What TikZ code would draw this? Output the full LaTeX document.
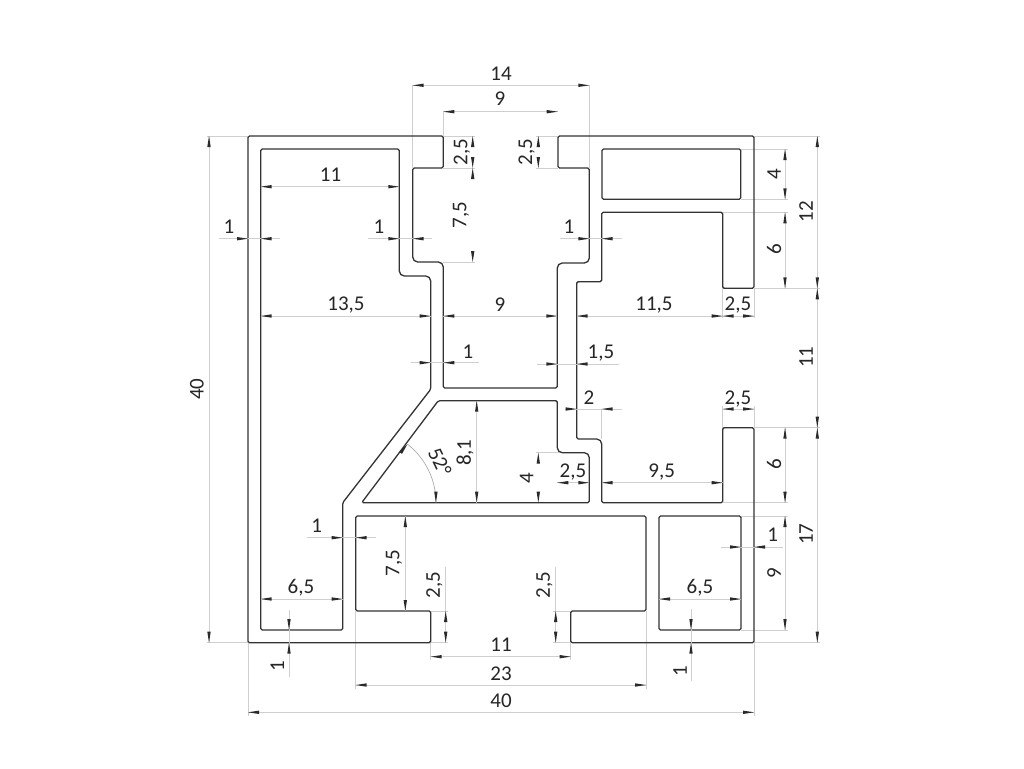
\documentclass[tikz,border=0pt]{standalone}
\usepackage{fontspec}
\setmainfont{Carlito}
\definecolor{profilecol}{HTML}{333333}
\definecolor{dimcol}{HTML}{CFCFCF}
\definecolor{tipcol}{HTML}{2A2A2A}
\tikzset{
  profile/.style={draw=profilecol,line width=1.3pt,line join=round},
  dimline/.style={draw=dimcol,line width=0.65pt},
  tipfill/.style={fill=tipcol,draw=none},
  dimlabel/.style={inner sep=0pt,text=black!85,font=\fontsize{21}{24}\selectfont},
  small/.style={rounded corners=1.5pt},
  large/.style={rounded corners=5pt},
}
\newcommand{\dtip}[3]{\fill[tipfill,shift={(#1,#2)},rotate=#3] (0,0) -- (11,1.7) -- (11,-1.7) -- cycle;}
% horizontal, arrows inside
\newcommand{\dimH}[3]{\draw[dimline] (#2,#1) -- (#3,#1);\dtip{#2}{#1}{0}\dtip{#3}{#1}{180}}
% horizontal, arrows outside; #4,#5 are the line ends
\newcommand{\dimHo}[5]{\draw[dimline] (#4,#1) -- (#5,#1);\dtip{#2}{#1}{180}\dtip{#3}{#1}{0}}
% vertical, arrows inside
\newcommand{\dimV}[3]{\draw[dimline] (#1,#2) -- (#1,#3);\dtip{#1}{#2}{270}\dtip{#1}{#3}{90}}
% vertical, arrows inside, line too faint to show
\newcommand{\dimVt}[3]{\dtip{#1}{#2}{270}\dtip{#1}{#3}{90}}
% vertical, arrows outside; #4,#5 are the line ends
\newcommand{\dimVo}[5]{\draw[dimline] (#1,#4) -- (#1,#5);\dtip{#1}{#2}{90}\dtip{#1}{#3}{270}}
\newcommand{\ext}[4]{\draw[dimline] (#1,#2) -- (#3,#4);}
\newcommand{\lab}[4]{\node[dimlabel] (#1) at (#2,#3) {#4};}
\newcommand{\labr}[4]{\node[dimlabel,rotate=90] (#1) at (#2,#3) {#4};}
\begin{document}
\begin{tikzpicture}[x=1pt,y=-1pt]
\useasboundingbox (0,0) rectangle (1024,768);
\fill[white] (0,0) rectangle (1024,768);

% extension lines
\ext{412.7}{85.3}{412.7}{168}
\ext{589.3}{85.3}{589.3}{168}
\ext{443.3}{111.7}{443.3}{136}
\ext{443.3}{136}{475}{136}
\ext{443.3}{168}{475}{168}
\ext{443.3}{262}{475}{262}
\ext{536}{136}{558}{136}
\ext{536}{168}{558}{168}
\ext{207}{136}{248}{136}
\ext{207}{642.7}{248}{642.7}
\ext{754}{136}{820}{136}
\ext{741}{149}{788}{149}
\ext{741}{199.3}{788}{199.3}
\ext{722.7}{212.3}{788}{212.3}
\ext{754}{288.3}{820}{288.3}
\ext{722.7}{288.3}{722.7}{318}
\ext{754}{288.3}{754}{318}
\ext{722.7}{406}{722.7}{428}
\ext{754}{406}{754}{428}
\ext{601.7}{409}{601.7}{439}
\ext{754}{427.7}{820}{427.7}
\ext{722.7}{502.7}{788}{502.7}
\ext{741}{516}{788}{516}
\ext{741}{630}{788}{630}
\ext{754}{642.7}{820}{642.7}
\ext{536}{452.7}{560}{452.7}
\ext{430.7}{611}{448}{611}
\ext{430.7}{642.7}{448}{642.7}
\ext{553}{611}{570.7}{611}
\ext{553}{642.7}{570.7}{642.7}
\ext{430.7}{642.7}{430.7}{660}
\ext{570.7}{642.7}{570.7}{660}
\ext{355.7}{611}{355.7}{689}
\ext{646}{611}{646}{689}
\ext{248}{642.7}{248}{716}
\ext{754}{642.7}{754}{716}

% profile
\draw[profile,small]
  (248,136) -- (443.3,136) -- (443.3,168) -- (412.7,168)
  [large] -- (412.7,262) -- (443.3,262)
  [small] -- (443.3,388) -- (557.3,388)
  [large] -- (557.3,263) -- (589.3,263)
  [small] -- (589.3,168) -- (558,168) -- (558,136) -- (754,136) -- (754,288.3)
  -- (722.7,288.3) -- (722.7,212.3) -- (601.7,212.3) -- (601.7,281.7)
  -- (576.7,281.7) -- (576.7,439)
  [large] -- (601.7,439) [small] -- (601.7,502.7) -- (722.7,502.7) -- (722.7,427.7)
  -- (754,427.7) -- (754,642.7) -- (570.7,642.7) -- (570.7,611) -- (646,611)
  -- (646,516) -- (355.7,516) -- (355.7,611) -- (430.7,611) -- (430.7,642.7)
  -- (248,642.7) -- cycle;
\draw[profile,small]
  (260.7,149) -- (399.3,149) [large] -- (399.3,276) -- (430.7,276)
  [small] -- (430.7,389.3) -- (342.7,502.7) -- (342.7,630) -- (260.7,630) -- cycle;
\draw[profile,small]
  (438.3,400.7) -- (557.3,400.7) [large] -- (557.3,452.7) -- (589.3,452.7)
  [small] -- (589.3,502.7) -- (361.7,502.7) -- cycle;
\draw[profile,small] (602,149) rectangle (740.7,199.3);
\draw[profile,small] (659,516) rectangle (741,630);

% dimensions
\dimH{85.3}{412.7}{589.3}     \lab{a14}{501}{74}{14}
\dimH{111.7}{443.3}{557.7}    \lab{a9}{500}{99}{9}
\dimVt{472.7}{136}{168}       \labr{a25l}{462}{152}{2,5}
\dimVt{472.7}{168}{262}       \labr{a75}{461}{215}{7,5}
\dimVt{538.3}{136}{168}       \labr{a25r}{526.7}{152}{2,5}
\dimH{186.7}{260.7}{399.3}    \lab{b11}{330.5}{175}{11}
\dimHo{238.7}{248}{260.7}{219}{280}    \lab{c1}{229}{227}{1}
\dimHo{238.7}{399.3}{412.7}{368}{431.7} \lab{c2}{379}{227}{1}
\dimHo{238.7}{589.3}{601.7}{560}{621.7} \lab{c3}{569}{227}{1}
\dimH{316}{260.7}{430.7}      \lab{d135}{346}{305}{13,5}
\dimH{316}{443.3}{557.3}      \lab{d9}{500}{305}{9}
\dimH{316}{576.7}{722.7}      \lab{d115}{654}{305}{11,5}
\dimH{316}{722.7}{754}        \lab{d25}{738}{305}{2,5}
\dimHo{362.7}{430.7}{443.3}{410.7}{479} \lab{e1}{468}{351.5}{1}
\dimHo{364}{557.3}{576.7}{537}{619}     \lab{e15}{601}{353}{1,5}
\dimHo{409}{576.7}{601.7}{565}{622}     \lab{f2}{589}{398}{2}
\dimH{409}{722.7}{754}        \lab{f25}{738}{399}{2,5}
\dimV{476.7}{400.7}{502.7}    \labr{g81}{465}{452.7}{8,1}
\dimVt{538.3}{452.7}{502.7}   \labr{g4}{526.7}{477.7}{4}
\dimH{482.7}{557.3}{589.3}    \lab{g25}{573}{471.7}{2,5}
\dimH{482.7}{601.7}{722.7}    \lab{g95}{661.7}{471.7}{9,5}
% angle
\draw[dimline,draw=gray!70] plot[domain=0:52,samples=30] ({361.7+74.3*cos(\x)},{502.7-74.3*sin(\x)});
\dtip{435.9}{502.7}{90}
\dtip{407.4}{444.2}{232}
\node[dimlabel,rotate=-64] (ang) at (440,462) {52°};
% right side
\dimV{785}{149}{199.3}        \labr{h4}{774}{174.3}{4}
\dimV{785}{212.3}{288.3}      \labr{h6}{774}{249.3}{6}
\dimV{817.3}{136}{288.3}      \labr{h12}{806}{211.7}{12}
\dimV{817.3}{288.3}{427.7}    \labr{h11}{806}{357.3}{11}
\dimV{817.3}{427.7}{642.7}    \labr{h17}{806}{534.3}{17}
\dimV{785}{427.7}{502.7}      \labr{i6}{774}{464.3}{6}
\dimV{785}{516}{630}          \labr{i9}{774}{572.7}{9}
\dimV{209}{136}{642.7}        \labr{j40}{197}{389.3}{40}
% lower
\dimHo{547}{741}{754}{720.7}{782.7}    \lab{k1}{772.7}{535}{1}
\dimH{599}{659}{741}          \lab{k65}{700}{588}{6,5}
\dimVo{691}{630}{642.7}{609}{680.7}    \labr{k1b}{680}{671}{1}
\dimV{555.7}{611}{642.7}
\ext{555.7}{566.7}{555.7}{611}
\labr{l25r}{544.3}{585}{2,5}
\dimV{445.7}{611}{642.7}
\ext{445.7}{566.7}{445.7}{611}
\labr{l25l}{434.3}{585}{2,5}
\dimV{405.3}{516}{611}        \labr{l75}{394}{563.3}{7,5}
\dimHo{537.7}{342.7}{355.7}{306.7}{375.7} \lab{m1}{316.7}{526}{1}
\dimH{599}{260.7}{342.7}      \lab{m65}{301}{588}{6,5}
\dimVo{289}{630}{642.7}{610}{676.7}    \labr{m1b}{277.3}{666}{1}
\dimH{656.7}{430.7}{570.7}    \lab{n11}{501}{645}{11}
\dimH{685}{355.7}{646}        \lab{n23}{501}{674}{23}
\dimH{712.3}{248}{754}        \lab{n40}{501}{701}{40}
\end{tikzpicture}
\end{document}
